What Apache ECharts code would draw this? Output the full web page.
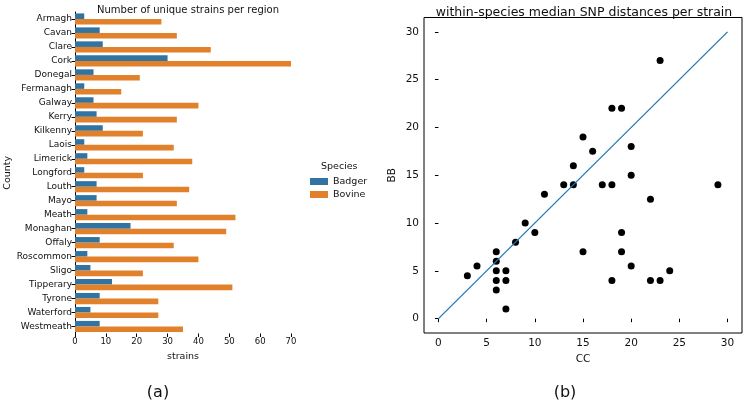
<!DOCTYPE html>
<html>
<head>
<meta charset="utf-8">
<script src="https://cdn.jsdelivr.net/npm/echarts@6/dist/echarts.min.js"></script>
<style>
  html, body { margin: 0; padding: 0; background: #fff; }
  #main { width: 744px; height: 401px; }
</style>
</head>
<body>
<div id="main"></div>
<script>
// (a) strains per county
const counties = ['Armagh', 'Cavan', 'Clare', 'Cork', 'Donegal', 'Fermanagh', 'Galway', 'Kerry',
  'Kilkenny', 'Laois', 'Limerick', 'Longford', 'Louth', 'Mayo', 'Meath', 'Monaghan', 'Offaly',
  'Roscommon', 'Sligo', 'Tipperary', 'Tyrone', 'Waterford', 'Westmeath'];
const badger = [3, 8, 9, 30, 6, 3, 6, 7, 9, 3, 4, 3, 7, 7, 4, 18, 8, 4, 5, 12, 8, 5, 8];
const bovine = [28, 33, 44, 70, 21, 15, 40, 33, 22, 32, 38, 22, 37, 33, 52, 49, 32, 40, 22, 51, 27, 27, 35];
const strainTicks = [0, 10, 20, 30, 40, 50, 60, 70];

// (b) median SNP distances, [CC, BB]
const snpPoints = [
  [3, 4.5], [4, 5.5], [6, 7], [6, 6], [6, 5], [6, 4], [6, 3], [7, 5], [7, 4], [7, 1],
  [8, 8], [9, 10], [10, 9], [11, 13], [13, 14], [14, 14], [14, 16], [15, 19], [15, 7],
  [16, 17.5], [17, 14], [18, 22], [18, 14], [18, 4], [19, 22], [19, 9], [19, 7],
  [20, 18], [20, 15], [20, 5.5], [22, 12.5], [22, 4], [23, 27], [23, 4], [24, 5], [29, 14]
];
const diagLine = [[0, 0], [30, 30]];
const snpTicks = [0, 5, 10, 15, 20, 25, 30];

const textColor = '#111';
const font = 'DejaVu Sans';

var chart = echarts.init(document.getElementById('main'), null, { renderer: 'canvas' });

var option = {
  animation: false,
  textStyle: { fontFamily: font, color: textColor },
  title: [
    { text: 'Number of unique strains per region', left: 183, top: 0, textAlign: 'center',
      textStyle: { fontSize: 10, fontWeight: 'normal', color: textColor, fontFamily: font } },
    { text: 'within-species median SNP distances per strain', left: 579, top: 1, textAlign: 'center',
      textStyle: { fontSize: 12.5, fontWeight: 'normal', color: textColor, fontFamily: font } },
    { text: 'Species', left: 316, top: 157,
      textStyle: { fontSize: 9.5, fontWeight: 'normal', color: textColor, fontFamily: font } },
    { text: '(a)', left: 153, top: 380, textAlign: 'center',
      textStyle: { fontSize: 16, fontWeight: 'normal', color: textColor, fontFamily: font } },
    { text: '(b)', left: 560, top: 380, textAlign: 'center',
      textStyle: { fontSize: 16, fontWeight: 'normal', color: textColor, fontFamily: font } }
  ],
  legend: {
    data: ['Badger', 'Bovine'],
    orient: 'vertical',
    left: 305,
    top: 171,
    icon: 'rect',
    itemWidth: 18,
    itemHeight: 7,
    itemGap: 2,
    textStyle: { fontSize: 9.5, color: textColor, fontFamily: font, lineHeight: 11 }
  },
  grid: [
    { left: 75, top: 12, width: 216, height: 321.5, outerBoundsMode: 'none' },
    { left: 424, top: 17.5, width: 318, height: 315.5, outerBoundsMode: 'none',
      show: true, borderColor: '#000', borderWidth: 1, backgroundColor: 'transparent' }
  ],
  xAxis: [
    {
      gridIndex: 0, type: 'value', min: 0, max: 70, interval: 10,
      name: 'strains', nameLocation: 'middle', nameGap: 17,
      nameTextStyle: { fontSize: 9.5, color: textColor, fontFamily: font },
      axisLine: { lineStyle: { color: '#000', width: 1 } },
      axisTick: { show: true, length: 3.5, lineStyle: { color: '#000' } },
      axisLabel: { fontSize: 8.5, color: textColor, margin: 4,
        formatter: function (v) { return strainTicks.indexOf(v) >= 0 ? String(v) : ''; } },
      splitLine: { show: false }
    },
    {
      gridIndex: 1, type: 'value', min: -1.5, max: 31.5,
      name: 'CC', nameLocation: 'middle', nameGap: 17,
      nameTextStyle: { fontSize: 10.5, color: textColor, fontFamily: font },
      axisLine: { show: false },
      axisTick: { show: true, length: 3.5, lineStyle: { color: '#000' }, customValues: snpTicks },
      axisLabel: { fontSize: 10.5, color: textColor, margin: 5, customValues: snpTicks },
      splitLine: { show: false }
    }
  ],
  yAxis: [
    {
      gridIndex: 0, type: 'category', data: counties, inverse: true,
      name: 'County', nameLocation: 'middle', nameGap: 62, nameRotate: 90,
      nameTextStyle: { fontSize: 9.5, color: textColor, fontFamily: font },
      axisLine: { lineStyle: { color: '#000', width: 1 } },
      axisTick: { show: true, length: 3.5, alignWithLabel: true, lineStyle: { color: '#000' } },
      axisLabel: { fontSize: 9, color: textColor, margin: 3, interval: 0 },
      splitLine: { show: false }
    },
    {
      gridIndex: 1, type: 'value', min: -1.5, max: 31.5,
      name: 'BB', nameLocation: 'middle', nameGap: 26, nameRotate: 90,
      nameTextStyle: { fontSize: 10.5, color: textColor, fontFamily: font },
      axisLine: { show: false },
      axisTick: { show: true, length: 3.5, lineStyle: { color: '#000' }, customValues: snpTicks },
      axisLabel: { fontSize: 10.5, color: textColor, margin: 5, customValues: snpTicks },
      splitLine: { show: false }
    }
  ],
  series: [
    {
      name: 'Badger', type: 'bar', xAxisIndex: 0, yAxisIndex: 0,
      data: badger, barGap: 0, barCategoryGap: '20%',
      itemStyle: { color: '#3274a1' }
    },
    {
      name: 'Bovine', type: 'bar', xAxisIndex: 0, yAxisIndex: 0,
      data: bovine, barGap: 0, barCategoryGap: '20%',
      itemStyle: { color: '#e1812c' }
    },
    {
      type: 'line', xAxisIndex: 1, yAxisIndex: 1,
      data: diagLine, showSymbol: false,
      lineStyle: { color: '#1f77b4', width: 1.3 }
    },
    {
      type: 'scatter', xAxisIndex: 1, yAxisIndex: 1,
      data: snpPoints, symbolSize: 7,
      itemStyle: { color: '#000', opacity: 1 }
    }
  ]
};

chart.setOption(option);
</script>
</body>
</html>
